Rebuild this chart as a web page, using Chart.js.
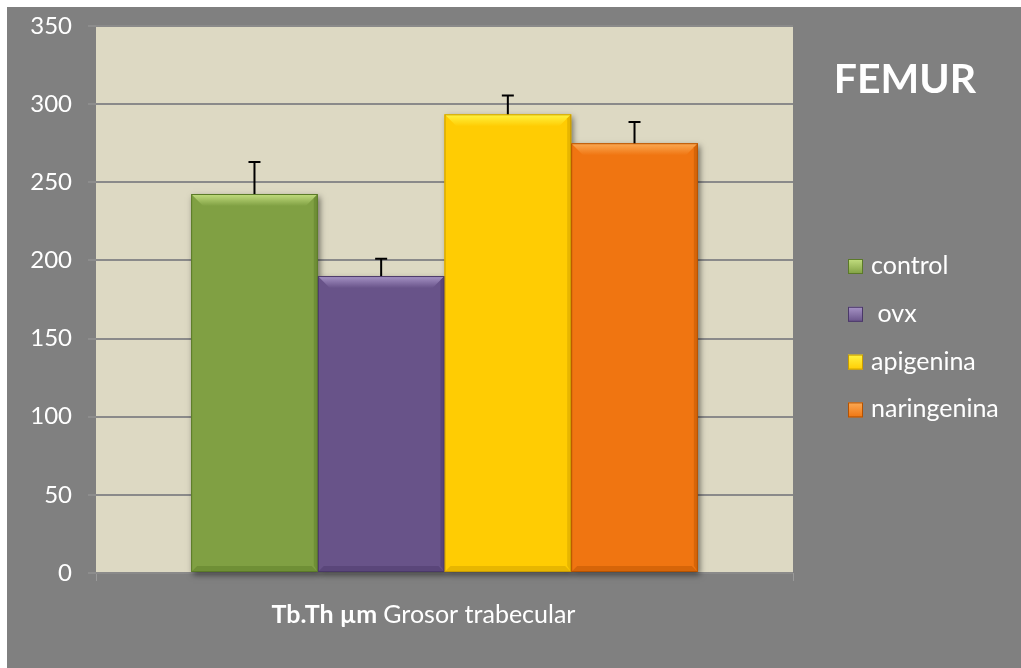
<!DOCTYPE html>
<html>
<head>
<meta charset="utf-8">
<script src="https://cdn.jsdelivr.net/npm/chart.js@4.4.0/dist/chart.umd.min.js"></script>
<style>
  html, body { margin: 0; padding: 0; background: #ffffff; }
  #wrap { position: absolute; left: 7px; top: 7px; width: 1014px; height: 661px; background: #808080; }
</style>
</head>
<body>
<div id="wrap"><canvas id="chart" width="1014" height="661"></canvas></div>
<script>
// data
const categories = ["Tb.Th µm Grosor trabecular"];
const seriesNames = ["control", " ovx", "apigenina", "naringenina"];
const means = [242.5, 190, 293.5, 275];
const errors = [20.5, 11, 12, 13.5];
const yTicks = [0, 50, 100, 150, 200, 250, 300, 350];
const chartTitle = "FEMUR";

// styles
const barColors = ["#80a043", "#685389", "#ffcc03", "#f07511"];
const lightColors = ["#c3de80", "#a794c6", "#fff441", "#fbaa55"];
const darkColors = ["#5b7a28", "#4a3868", "#c99c00", "#b55200"];

const plotBg = {
    id: "plotBg",
    beforeDraw(chart) {
        const a = chart.chartArea, ctx = chart.ctx;
        ctx.save();
        ctx.fillStyle = "#ddd9c3";
        ctx.fillRect(a.left, a.top, a.right - a.left, a.bottom - a.top);
        ctx.restore();
    },
    beforeDatasetsDraw(chart) {
        const ctx = chart.ctx;
        ctx.save();
        chart.data.datasets.forEach((ds, i) => {
            const bar = chart.getDatasetMeta(i).data[0];
            const p = bar.getProps(["x", "y", "base", "width"], true);
            ctx.shadowColor = "rgba(0,0,0,0.5)";
            ctx.shadowBlur = 6;
            ctx.shadowOffsetX = 2;
            ctx.shadowOffsetY = 3;
            ctx.fillStyle = barColors[i];
            ctx.fillRect(p.x - p.width / 2, p.y, p.width, p.base - p.y);
        });
        ctx.restore();
    }
};

const bevelAndErrors = {
    id: "bevelAndErrors",
    afterDatasetsDraw(chart) {
        const ctx = chart.ctx;
        const y = chart.scales.y;
        ctx.save();
        chart.data.datasets.forEach((ds, i) => {
            const bar = chart.getDatasetMeta(i).data[0];
            const p = bar.getProps(["x", "y", "base", "width"], true);
            const l = p.x - p.width / 2, r = p.x + p.width / 2, t = p.y, b = p.base;
            const bv = 12;
            // top bevel
            const g = ctx.createLinearGradient(0, t, 0, t + bv);
            g.addColorStop(0, lightColors[i]);
            g.addColorStop(1, barColors[i]);
            ctx.fillStyle = g;
            ctx.beginPath();
            ctx.moveTo(l, t); ctx.lineTo(r, t); ctx.lineTo(r - bv, t + bv); ctx.lineTo(l + bv, t + bv);
            ctx.closePath(); ctx.fill();
            // right side
            ctx.globalAlpha = 0.45;
            ctx.fillStyle = darkColors[i];
            ctx.beginPath();
            ctx.moveTo(r, t); ctx.lineTo(r, b); ctx.lineTo(r - 4, b - 6); ctx.lineTo(r - 4, t + 4);
            ctx.closePath(); ctx.fill();
            // bottom
            ctx.beginPath();
            ctx.moveTo(l, b); ctx.lineTo(r, b); ctx.lineTo(r - 6, b - 6); ctx.lineTo(l + 6, b - 6);
            ctx.closePath(); ctx.fill();
            ctx.globalAlpha = 1;
            ctx.strokeStyle = darkColors[i];
            ctx.lineWidth = 1;
            ctx.strokeRect(l + 0.5, t + 0.5, r - l - 1, b - t - 1);
            // error bar (upper half only)
            const top = y.getPixelForValue(means[i] + errors[i]);
            ctx.strokeStyle = "#000000";
            ctx.lineWidth = 2;
            ctx.beginPath();
            ctx.moveTo(p.x, t); ctx.lineTo(p.x, top);
            ctx.moveTo(p.x - 6, top); ctx.lineTo(p.x + 6, top);
            ctx.stroke();
        });
        ctx.restore();
    }
};

const sideText = {
    id: "sideText",
    afterDraw(chart) {
        const ctx = chart.ctx;
        ctx.save();
        ctx.fillStyle = "#ffffff";
        // title
        ctx.font = "bold 41px Lato";
        ctx.textAlign = "center";
        ctx.textBaseline = "alphabetic";
        ctx.fillText(chartTitle, 898, 86);
        // legend
        ctx.font = "25px Lato";
        ctx.textAlign = "left";
        chart.data.datasets.forEach((ds, i) => {
            const bx = 841, by = 252 + i * 47.8;
            const g = ctx.createLinearGradient(0, by, 0, by + 15);
            g.addColorStop(0, lightColors[i]);
            g.addColorStop(1, barColors[i]);
            ctx.fillStyle = g;
            ctx.fillRect(bx, by, 15, 15);
            ctx.strokeStyle = darkColors[i];
            ctx.lineWidth = 1;
            ctx.strokeRect(bx + 0.5, by + 0.5, 14, 14);
            ctx.fillStyle = "#ffffff";
            ctx.fillText(ds.label, 864, by + 15);
        });
        // category label: bold unit part + regular name
        const lab = chart.data.labels[0];
        const cut = lab.indexOf("µm") + 3;
        const boldPart = lab.slice(0, cut), normPart = lab.slice(cut);
        ctx.font = "bold 25px Lato";
        const w1 = ctx.measureText(boldPart).width;
        ctx.font = "25px Lato";
        const w2 = ctx.measureText(normPart).width;
        const cx = chart.scales.x.getPixelForValue(0) - 21;
        let x0 = cx - (w1 + w2) / 2;
        ctx.font = "bold 25px Lato";
        ctx.fillText(boldPart, x0, 616);
        ctx.font = "25px Lato";
        ctx.fillText(normPart, x0 + w1, 616);
        ctx.restore();
    }
};

new Chart(document.getElementById("chart"), {
    type: "bar",
    data: {
        labels: categories,
        datasets: seriesNames.map((name, i) => ({
            label: name,
            data: [means[i]],
            backgroundColor: barColors[i],
            borderWidth: 0,
            categoryPercentage: 0.727,
            barPercentage: 1.0
        }))
    },
    options: {
        responsive: false,
        animation: false,
        events: [],
        layout: { padding: { left: 0, top: 19, right: 228, bottom: 0 } },
        plugins: {
            legend: { display: false },
            tooltip: { enabled: false }
        },
        scales: {
            x: {
                ticks: { display: false },
                grid: { display: true, drawOnChartArea: false, offset: true, tickLength: 8, color: "#9a9a9a", lineWidth: 1 },
                border: { display: false },
                afterFit(s) { s.height = 95; s.paddingLeft = 0; s.paddingRight = 0; }
            },
            y: {
                min: 0,
                max: 350,
                afterBuildTicks(s) { s.ticks = yTicks.map(v => ({ value: v })); },
                ticks: { color: "#ffffff", font: { family: "Lato", size: 24 }, padding: 16 },
                grid: { color: "#8a8a8a", lineWidth: 2, tickLength: 8, tickColor: "#9a9a9a", tickWidth: 1 },
                border: { display: false },
                afterFit(s) { s.width = 89; s.paddingTop = 0; s.paddingBottom = 0; }
            }
        }
    },
    plugins: [plotBg, bevelAndErrors, sideText]
});
</script>
</body>
</html>
